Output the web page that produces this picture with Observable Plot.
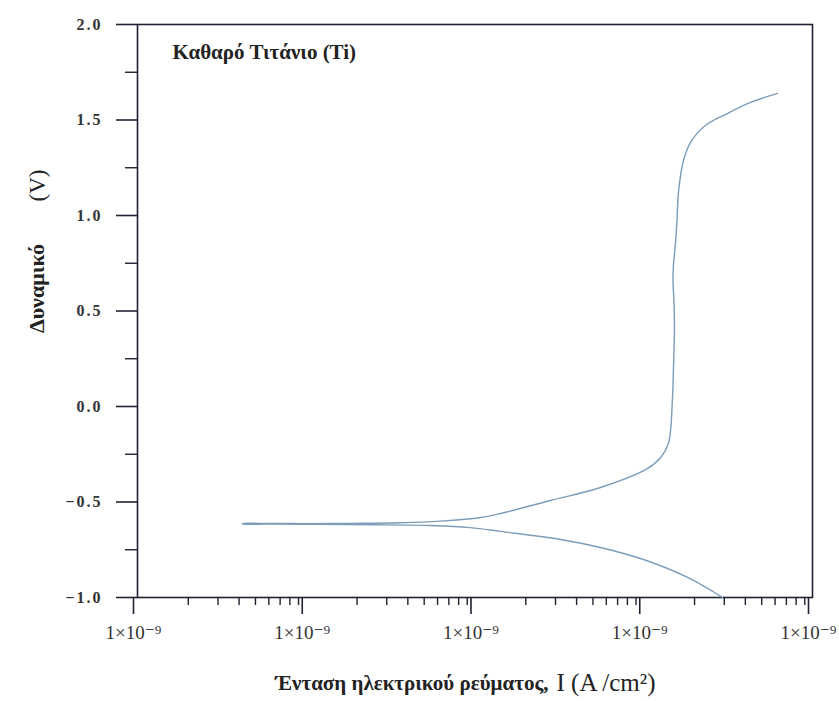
<!DOCTYPE html>
<html>
<head>
<meta charset="utf-8">
<script src="https://cdn.jsdelivr.net/npm/d3@7"></script>
<script src="https://cdn.jsdelivr.net/npm/@observablehq/plot@0.6"></script>
<style>
  body { margin: 0; background: #ffffff; }
</style>
</head>
<body>
<div id="chart"></div>
<script>
// Cathodic branch: from -1.0 V up toward the corrosion potential
const cathodicCurrent = [2.93e-6, 1.82e-6, 9.97e-7, 5.54e-7, 3.21e-7, 1.42e-7, 9.4e-8, 5.44e-8, 2.5e-8, 1.2e-8, 6.0e-9, 4.2e-9];
const cathodicPotential = [-1.0, -0.895, -0.801, -0.738, -0.696, -0.654, -0.634, -0.623, -0.619, -0.617, -0.616, -0.615];
// Anodic branch: from the corrosion potential up to the end of the scan
const anodicCurrent = [4.2e-9, 5.4e-9, 9.3e-9, 1.83e-8, 3.62e-8, 6.25e-8, 1.08e-7, 1.42e-7, 2.8e-7, 5.54e-7, 1.05e-6, 1.26e-6, 1.40e-6, 1.48e-6, 1.50e-6, 1.52e-6, 1.51e-6, 1.49e-6, 1.50e-6, 1.54e-6, 1.57e-6, 1.61e-6, 1.72e-6, 1.89e-6, 2.32e-6, 3.13e-6, 4.29e-6, 6.21e-6];
const anodicPotential = [-0.613, -0.612, -0.613, -0.612, -0.609, -0.600, -0.581, -0.560, -0.492, -0.424, -0.325, -0.267, -0.194, 0.047, 0.20, 0.398, 0.55, 0.660, 0.74, 0.850, 0.960, 1.131, 1.288, 1.382, 1.471, 1.534, 1.592, 1.639];

const xMajorTicks = [1e-9, 1e-8, 1e-7, 1e-6, 1e-5];
const xTickLabels = ["1×10⁻⁹", "1×10⁻⁹", "1×10⁻⁹", "1×10⁻⁹", "1×10⁻⁹"];
const yMajorTicks = [-1.0, -0.5, 0.0, 0.5, 1.0, 1.5, 2.0];
const yTickLabels = ["−1.0", "−0.5", "0.0", "0.5", "1.0", "1.5", "2.0"];
const yMinorTicks = [-0.75, -0.25, 0.25, 0.75, 1.25, 1.75];

const title = "Καθαρό Τιτάνιο (Ti)";
const xLabelMain = "Ένταση ηλεκτρικού ρεύματος,";
const xLabelUnit = "I (A /cm²)";
const yLabelMain = "Δυναμικό";
const yLabelUnit = "(V)";

// build table
const curve = [];
cathodicCurrent.forEach((c, i) => curve.push({i: c, E: cathodicPotential[i]}));
anodicCurrent.forEach((c, i) => curve.push({i: c, E: anodicPotential[i]}));

const xMinorTicks = [];
for (let d = 0; d < xMajorTicks.length - 1; d++) {
  for (let k = 2; k <= 9; k++) xMinorTicks.push(xMajorTicks[d] * k);
}
const xLabelMap = new Map(xMajorTicks.map((t, i) => [t, xTickLabels[i]]));
const yLabelMap = new Map(yMajorTicks.map((t, i) => [t, yTickLabels[i]]));

const ink = "#1f2233";
const serif = "Liberation Serif, DejaVu Serif, serif";

const plot = Plot.plot({
  width: 839,
  height: 701,
  marginLeft: 137,
  marginRight: 27,
  marginTop: 24,
  marginBottom: 104,
  style: {background: "#ffffff", fontFamily: serif, color: ink},
  x: {type: "log", domain: [1e-9, 1e-5], axis: null},
  y: {domain: [-1, 2], axis: null},
  marks: [
    Plot.frame({stroke: ink, strokeWidth: 1.6}),
    Plot.axisX(xMinorTicks, {anchor: "bottom", tickSize: 8, tickFormat: () => "", stroke: ink, strokeWidth: 1.4, label: null}),
    Plot.axisX(xMajorTicks, {anchor: "bottom", tickSize: 17, tickPadding: 11, tickFormat: d => xLabelMap.get(d), fontSize: 19, dx: -4, fill: "#333", stroke: ink, strokeWidth: 1.6, label: null}),
    Plot.axisY(yMinorTicks, {anchor: "left", tickSize: 12, tickFormat: () => "", stroke: ink, strokeWidth: 1.4, label: null}),
    Plot.axisY(yMajorTicks, {anchor: "left", tickSize: 21, tickPadding: 14, tickFormat: d => yLabelMap.get(d), fontSize: 16, fontWeight: "bold", fill: "#333", stroke: ink, strokeWidth: 1.6, label: null}),
    Plot.line(curve, {x: "i", y: "E", stroke: "#7d9dba", strokeWidth: 1.4, curve: "catmull-rom"}),
    Plot.text([title], {frameAnchor: "top-left", dx: 35, dy: 28, textAnchor: "start", lineAnchor: "middle", fontSize: 21, fontWeight: "bold", fill: "#222"}),
    Plot.text([xLabelMain], {frameAnchor: "bottom-left", dx: 411, dy: 86, textAnchor: "end", lineAnchor: "middle", fontSize: 21, fontWeight: "bold", fill: "#222"}),
    Plot.text([xLabelUnit], {frameAnchor: "bottom-left", dx: 419, dy: 85, textAnchor: "start", lineAnchor: "middle", fontSize: 25, fill: "#222"}),
    Plot.text([yLabelMain], {frameAnchor: "top-left", dx: -109, dy: 264, rotate: -90, textAnchor: "middle", fontSize: 22, fontWeight: "bold", fill: "#222"}),
    Plot.text([yLabelUnit], {frameAnchor: "top-left", dx: -109, dy: 161, rotate: -90, textAnchor: "middle", fontSize: 23, fill: "#222"})
  ]
});

d3.select(plot).selectAll("g[aria-label='y-axis tick label'] text").style("letter-spacing", "2px");
document.getElementById("chart").appendChild(plot);
</script>
</body>
</html>
